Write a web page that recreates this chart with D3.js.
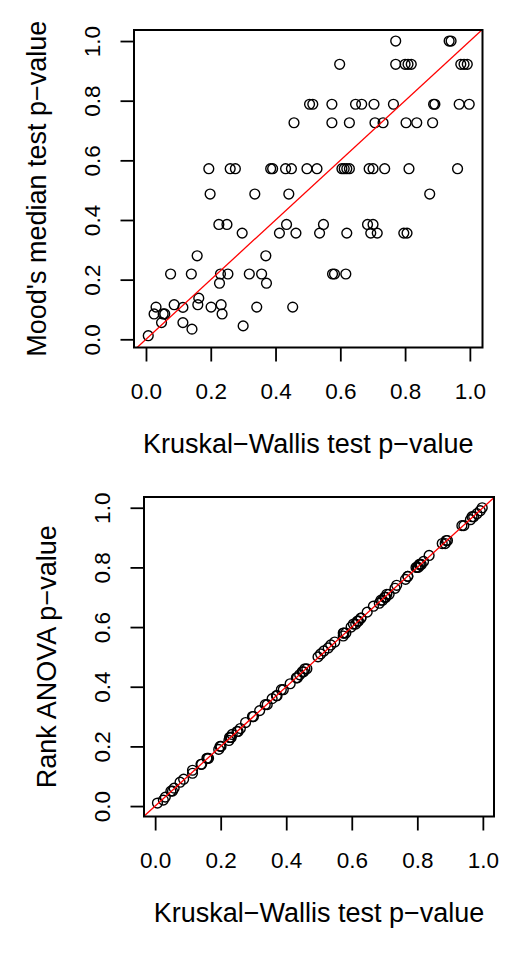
<!DOCTYPE html>
<html lang="en">
  <head>
    <title>p-value comparison</title>
    <script src="https://cdn.jsdelivr.net/npm/d3@7"></script>
    <style>
      body { margin: 0; background: #fff; }
      text { font-family: 'Liberation Sans', Arial, sans-serif; fill: #000; }
    </style>
  </head>

  <body>
    <div id='chart'></div>

    <script type='text/javascript'>
      // Kruskal-Wallis p-values (x of both panels)
      let kwP = [0.007,0.025,0.031,0.048,0.053,0.058,0.087,0.114,0.114,0.076,
                 0.140,0.142,0.158,0.160,0.163,0.194,0.198,0.201,0.225,0.227,
                 0.230,0.232,0.235,0.250,0.253,0.260,0.276,0.297,0.300,0.319,
                 0.336,0.342,0.357,0.370,0.372,0.385,0.391,0.412,0.431,0.434,
                 0.441,0.449,0.453,0.457,0.463,0.497,0.505,0.515,0.528,0.536,
                 0.548,0.574,0.574,0.576,0.582,0.598,0.605,0.612,0.617,0.620,
                 0.620,0.628,0.628,0.647,0.666,0.684,0.689,0.694,0.701,0.701,
                 0.704,0.707,0.714,0.732,0.737,0.764,0.771,0.771,0.796,0.800,
                 0.803,0.806,0.809,0.812,0.819,0.836,0.876,0.885,0.888,0.892,
                 0.936,0.942,0.962,0.967,0.972,0.982,0.992,0.998]

      // Mood's median test p-values
      let moodP = [0.012,0.085,0.108,0.056,0.085,0.085,0.116,0.107,0.056,0.219,
                   0.219,0.034,0.280,0.116,0.138,0.572,0.487,0.108,0.385,0.188,
                   0.219,0.116,0.085,0.385,0.219,0.572,0.572,0.356,0.045,0.219,
                   0.487,0.108,0.219,0.280,0.188,0.572,0.572,0.356,0.572,0.385,
                   0.487,0.572,0.108,0.726,0.356,0.572,0.788,0.788,0.572,0.356,
                   0.385,0.788,0.726,0.219,0.219,0.922,0.572,0.572,0.219,0.356,
                   0.572,0.726,0.572,0.788,0.788,0.385,0.572,0.356,0.385,0.572,
                   0.788,0.726,0.356,0.726,0.572,0.788,1.000,0.922,0.356,0.922,
                   0.726,0.356,0.922,0.572,0.922,0.726,0.487,0.726,0.788,0.788,
                   1.000,1.000,0.572,0.788,0.922,0.922,0.922,0.788]

      // Rank ANOVA p-values
      let rankP = [0.01,0.02,0.03,0.05,0.05,0.06,0.09,0.11,0.12,0.08,
                   0.14,0.14,0.16,0.16,0.16,0.19,0.20,0.20,0.22,0.23,
                   0.23,0.23,0.24,0.25,0.25,0.26,0.28,0.30,0.30,0.32,
                   0.34,0.34,0.36,0.37,0.37,0.39,0.39,0.41,0.43,0.43,
                   0.44,0.45,0.45,0.46,0.46,0.50,0.51,0.52,0.53,0.54,
                   0.55,0.57,0.58,0.58,0.58,0.60,0.61,0.61,0.62,0.62,
                   0.62,0.63,0.63,0.65,0.67,0.68,0.69,0.69,0.70,0.70,
                   0.70,0.71,0.71,0.73,0.74,0.76,0.77,0.77,0.80,0.80,
                   0.80,0.81,0.81,0.81,0.82,0.84,0.88,0.88,0.89,0.89,
                   0.94,0.94,0.96,0.97,0.97,0.98,0.99,1.00]

      let tickVals = [0, 0.2, 0.4, 0.6, 0.8, 1.0]
      let xTitle = 'Kruskal\u2212Wallis test p\u2212value'

      let width = 525
      let height = 953
      let canvas = d3.select('#chart').append('svg')
        .attr('width', width)
        .attr('height', height)

      function panel(id, box, xDom, yDom, ys, yTitle) {
        let sx = d3.scaleLinear().domain(xDom).range([box.left, box.right])
        let sy = d3.scaleLinear().domain(yDom).range([box.bottom, box.top])
        let g = canvas.append('g')

        g.append('clipPath').attr('id', id)
          .append('rect')
          .attr('x', box.left).attr('y', box.top)
          .attr('width', box.right - box.left)
          .attr('height', box.bottom - box.top)

        let pts = kwP.map((d, i) => [d, ys[i]])
        g.append('g').selectAll('circle')
          .data(pts)
          .enter()
          .append('circle')
          .attr('cx', (d) => sx(d[0]))
          .attr('cy', (d) => sy(d[1]))
          .attr('r', 4.9)
          .style('fill', 'none')
          .style('stroke', '#000')
          .style('stroke-width', 1.4)

        // y = x reference line
        g.append('line')
          .attr('clip-path', 'url(#' + id + ')')
          .attr('x1', sx(-1)).attr('y1', sy(-1))
          .attr('x2', sx(2)).attr('y2', sy(2))
          .style('stroke', '#ff0000')
          .style('stroke-width', 1.3)

        let xa = g.append('g')
          .attr('transform', 'translate(0,' + box.bottom + ')')
          .call(d3.axisBottom(sx).tickValues(tickVals)
            .tickFormat(d3.format('.1f')).tickSize(14).tickSizeOuter(0))
        xa.select('.domain').remove()
        xa.selectAll('line').style('stroke-width', 1.8)
        xa.selectAll('text')
          .attr('y', 35.5)
          .attr('dy', '0.71em')
          .style('font-size', '22.5px')
          .style('font-family', "'Liberation Sans', Arial, sans-serif")

        let ya = g.append('g')
          .attr('transform', 'translate(' + box.left + ',0)')
          .call(d3.axisLeft(sy).tickValues(tickVals)
            .tickFormat(d3.format('.1f')).tickSize(13.5).tickSizeOuter(0))
        ya.select('.domain').remove()
        ya.selectAll('line').style('stroke-width', 1.8)
        ya.selectAll('text')
          .attr('x', 0)
          .attr('dy', 0)
          .attr('text-anchor', 'middle')
          .attr('transform', 'translate(-34,0) rotate(-90)')
          .style('font-size', '22.5px')
          .style('font-family', "'Liberation Sans', Arial, sans-serif")

        g.append('rect')
          .attr('x', box.left).attr('y', box.top)
          .attr('width', box.right - box.left)
          .attr('height', box.bottom - box.top)
          .style('fill', 'none')
          .style('stroke', '#000')
          .style('stroke-width', 2)

        g.append('text')
          .attr('x', (box.left + box.right) / 2)
          .attr('y', box.bottom + 105.5)
          .attr('text-anchor', 'middle')
          .style('font-size', '27px')
          .text(xTitle)

        g.append('text')
          .attr('transform', 'translate(' + (box.left - 88.5) + ',' +
                ((box.top + box.bottom) / 2) + ') rotate(-90)')
          .attr('text-anchor', 'middle')
          .style('font-size', '27px')
          .text(yTitle)
      }

      panel('clipTop', {left: 134, right: 482.5, top: 30, bottom: 347.5},
            [-0.037, 1.039], [-0.0275, 1.037], moodP,
            "Mood's median test p\u2212value")

      panel('clipBottom', {left: 144, right: 494, top: 497, bottom: 816.5},
            [-0.034, 1.034], [-0.035, 1.036], rankP,
            'Rank ANOVA p\u2212value')
    </script>
  </body>
</html>
